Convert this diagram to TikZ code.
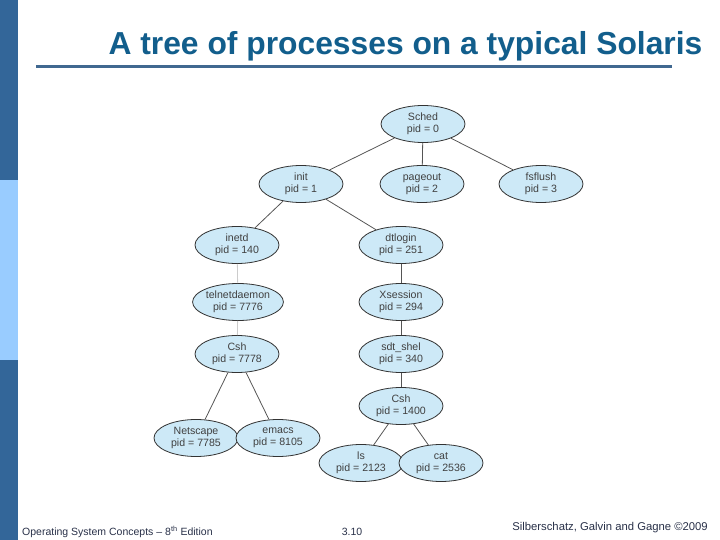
\documentclass[tikz,border=0pt]{standalone}
\usepackage{fontspec}
\setmainfont{Liberation Sans}
\definecolor{BarDark}{RGB}{51,102,153}
\definecolor{BarLight}{RGB}{153,204,255}
\definecolor{TitleColor}{RGB}{18,94,140}
\definecolor{RuleColor}{RGB}{64,104,144}
\definecolor{ProcFill}{RGB}{205,233,247}
\definecolor{EdgeColor}{RGB}{85,85,85}
\definecolor{FooterColor}{RGB}{40,48,72}
\usetikzlibrary{shapes.geometric}
\tikzstyle{proc} = [ellipse, draw=black!80, line width=0.8pt, fill=ProcFill, minimum width=84pt, minimum height=37pt, inner sep=0pt, align=center, font=\fontsize{10.6}{12}\selectfont, text=black!75]
\tikzstyle{edge} = [EdgeColor, line width=0.8pt]
\tikzstyle{faded} = [black!20, line width=0.8pt]
\tikzstyle{footer} = [font=\fontsize{10.5}{12}\selectfont, text=FooterColor, anchor=base west, inner sep=0pt]

\begin{document}
\begin{tikzpicture}[x=1pt, y=-1pt]
            \useasboundingbox (0,0) rectangle (720,540);

            % Side bar
            \fill[BarDark] (0,0) rectangle (18,180);
            \fill[BarLight] (0,180) rectangle (18,360);
            \fill[BarDark] (0,360) rectangle (18,540);

            % Title
            \node[anchor=base, inner sep=0pt, text=TitleColor, font=\bfseries\fontsize{31.8}{38}\selectfont] (title) at (405.5,55) {A tree of processes on a typical Solaris};
            \draw[RuleColor, line width=3pt] (36,67) -- (672,67);

            % Processes
            \node[proc] (sched) at (423,124) {Sched\\pid = 0};
            \node[proc] (init) at (301,184) {init\\pid = 1};
            \node[proc] (pageout) at (422,184) {pageout\\pid = 2};
            \node[proc] (fsflush) at (541,184) {fsflush\\pid = 3};
            \node[proc] (inetd) at (237,245) {inetd\\pid = 140};
            \node[proc] (dtlogin) at (401,245) {dtlogin\\pid = 251};
            \node[proc] (telnet) at (238,302) {telnetdaemon\\pid = 7776};
            \node[proc] (xsession) at (401,302) {Xsession\\pid = 294};
            \node[proc] (cshleft) at (237,354) {Csh\\pid = 7778};
            \node[proc] (sdtshel) at (401,354) {sdt\_shel\\pid = 340};
            \node[proc] (cshright) at (401,406) {Csh\\pid = 1400};
            \node[proc] (netscape) at (196,438) {Netscape\\pid = 7785};
            \node[proc] (emacs) at (278,438) {emacs\\pid = 8105};
            \node[proc] (ls) at (361,463) {ls\\pid = 2123};
            \node[proc] (cat) at (441,463) {cat\\pid = 2536};

            % Links
            \draw[edge] (sched) -- (init);
            \draw[edge] (sched) -- (pageout);
            \draw[edge] (sched) -- (fsflush);
            \draw[edge] (init) -- (inetd);
            \draw[edge] (init) -- (dtlogin);
            \draw[faded] (inetd) -- (telnet);
            \draw[faded] (telnet) -- (cshleft);
            \draw[edge] (cshleft) -- (netscape);
            \draw[edge] (cshleft) -- (emacs);
            \draw[edge] (dtlogin) -- (xsession);
            \draw[edge] (xsession) -- (sdtshel);
            \draw[edge] (sdtshel) -- (cshright);
            \draw[edge] (cshright) -- (ls);
            \draw[edge] (cshright) -- (cat);

            % Footer
            \node[footer] (edition) at (22,535) {Operating System Concepts -- 8\textsuperscript{th} Edition};
            \node[footer, anchor=base] (page) at (352,535) {3.10};
            \node[footer, anchor=base east, font=\fontsize{11.3}{13}\selectfont] (authors) at (708,530) {Silberschatz, Galvin and Gagne \textcopyright 2009};
        \end{tikzpicture}
\end{document}
